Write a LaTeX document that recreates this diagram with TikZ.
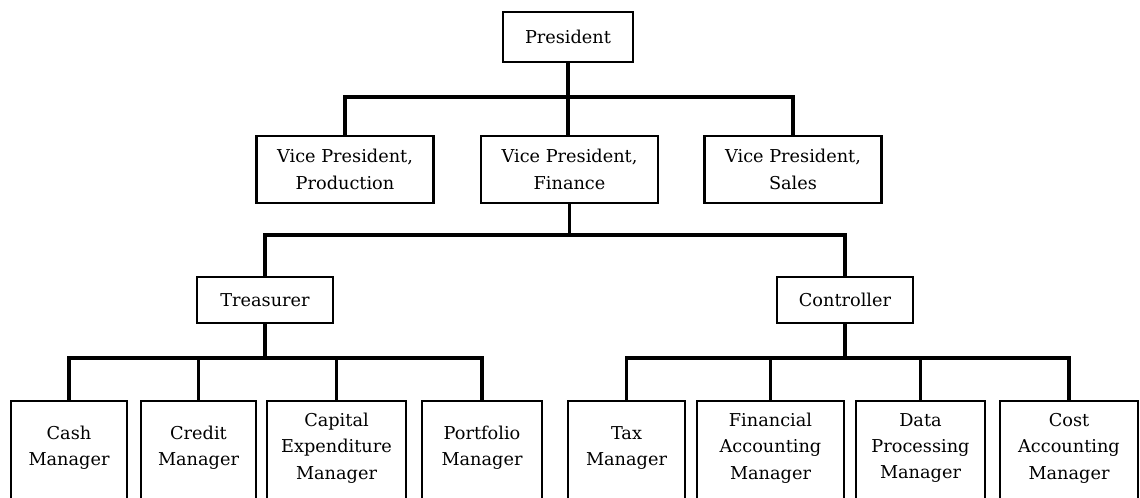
\documentclass[tikz,border=0pt]{standalone}
\usepackage{fontspec}
\setmainfont{DejaVu Serif}
\begin{document}
\begin{tikzpicture}[x=0.025cm,y=-0.025cm,
  post/.style={draw, line width=1.6pt, inner sep=0pt, align=center,
    font=\fontsize{12.6}{18.8}\selectfont},
  vp/.style={post, minimum width=4.425cm, minimum height=1.675cm},
  mid/.style={post, minimum width=3.4cm, minimum height=1.15cm},
  mgr/.style={post, draw=none, minimum height=2.3cm},
  link/.style={line width=2.6pt}]
\useasboundingbox (0,0) rectangle (1140,498);
\clip (0,0) rectangle (1140,498);
% boxes
\node (pres) at (568,37) [post, minimum width=3.25cm, minimum height=1.25cm] {President};
\node (vpprod) at (345,169.5) [vp] {Vice President,\\Production};
\node (vpfin) at (569.5,169.5) [vp] {Vice President,\\Finance};
\node (vpsales) at (793,169.5) [vp] {Vice President,\\Sales};
\node (treas) at (265,300) [mid] {Treasurer};
\node (contr) at (845,300) [mid] {Controller};
\node (cash) at (69,448) [mgr, minimum width=2.85cm] {Cash\\Manager};
\node (credit) at (198.5,448) [mgr, minimum width=2.825cm] {Credit\\Manager};
\node (capital) at (336.5,448) [mgr, minimum width=3.425cm] {Capital\\Expenditure\\Manager};
\node (portfolio) at (482,448) [mgr, minimum width=2.95cm] {Portfolio\\Manager};
\node (tax) at (626.5,448) [mgr, minimum width=2.875cm] {Tax\\Manager};
\node (finacc) at (770.5,448) [mgr, minimum width=3.625cm] {Financial\\Accounting\\Manager};
\node (dataproc) at (920.5,448) [mgr, minimum width=3.175cm] {Data\\Processing\\Manager};
\node (costacc) at (1069,448) [mgr, minimum width=3.4cm] {Cost\\Accounting\\Manager};
% open boxes, cut off at the bottom
\foreach \n in {cash,credit,capital,portfolio,tax,finacc,dataproc,costacc}
  \draw[line width=1.6pt] ([yshift=-.5cm]\n.south west) |- (\n.north east) -- ([yshift=-.5cm]\n.south east);
% bars
\coordinate (topbar) at (0,97);
\coordinate (midbar) at (0,235);
\coordinate (lowbar) at (0,358);
\draw[link] (pres.south) -- (pres.south |- vpfin.north);
\draw[link] (vpprod.north) |- (vpsales.north |- topbar) -- (vpsales.north);
\draw[link] (vpfin.south) -- (vpfin.south |- midbar);
\draw[link] (treas.north) |- (contr.north |- midbar) -- (contr.north);
\draw[link] (treas.south) -- (treas.south |- lowbar);
\draw[link] (cash.north) |- (portfolio.north |- lowbar) -- (portfolio.north);
\draw[link] (credit.north) -- (credit.north |- lowbar);
\draw[link] (capital.north) -- (capital.north |- lowbar);
\draw[link] (contr.south) -- (contr.south |- lowbar);
\draw[link] (tax.north) |- (costacc.north |- lowbar) -- (costacc.north);
\draw[link] (finacc.north) -- (finacc.north |- lowbar);
\draw[link] (dataproc.north) -- (dataproc.north |- lowbar);
\end{tikzpicture}
\end{document}
